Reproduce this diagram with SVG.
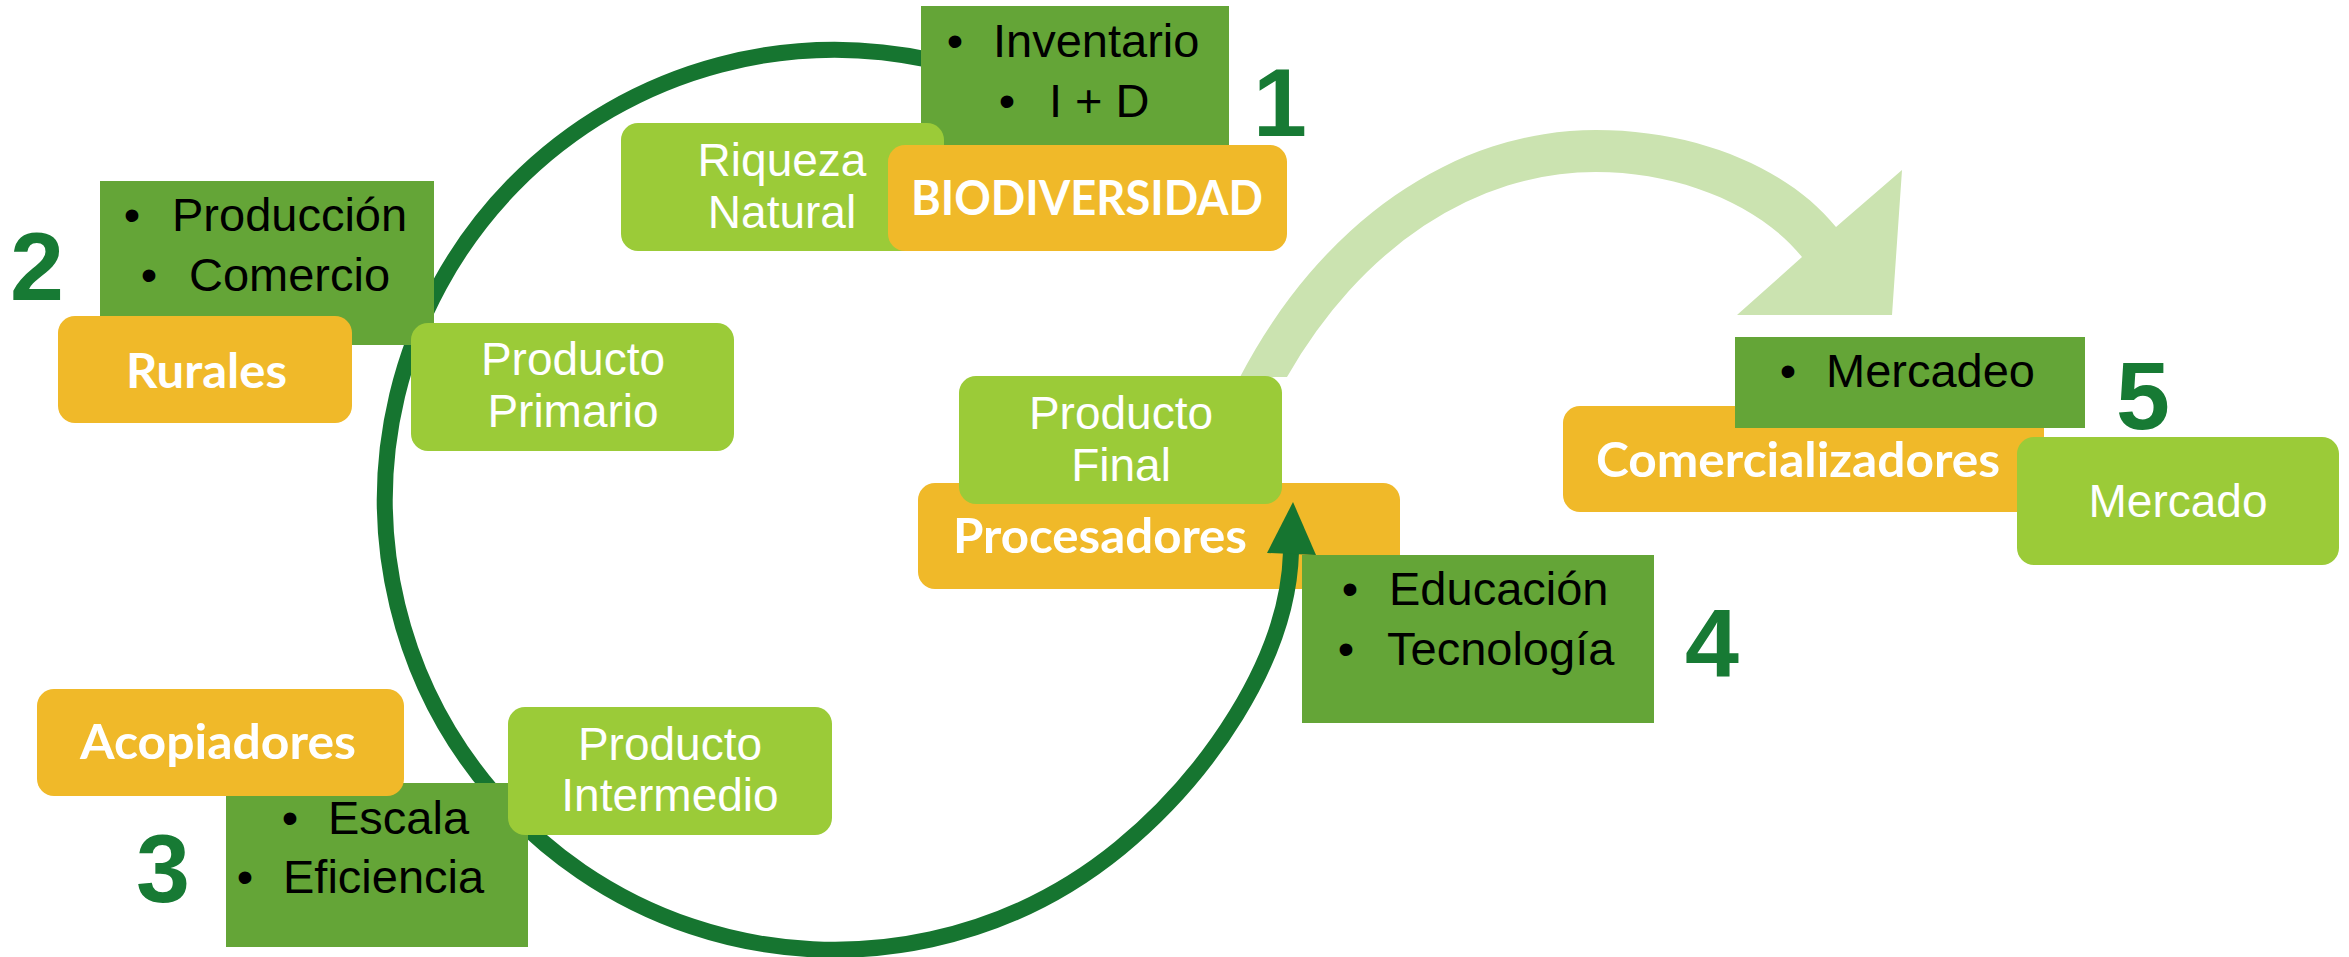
<svg xmlns="http://www.w3.org/2000/svg" width="2349" height="957" viewBox="0 0 2349 957">
<style>
.dk{fill:#64A537}
.lg{fill:#9BCB38}
.or{fill:#F0B929}
.bt{font-family:'Liberation Sans',Arial,sans-serif;font-size:47px;fill:#000}
.wt{font-family:'Liberation Sans',Arial,sans-serif;font-size:46px;fill:#fff;text-anchor:middle}
.bo{font-family:Lato,'Open Sans',sans-serif;font-weight:700;font-size:47px;fill:#fff}
.num{font-family:'Liberation Sans',Arial,sans-serif;font-weight:700;font-size:97px;fill:#177A34;text-anchor:middle}
.bul{text-anchor:middle}
</style>
<rect width="2349" height="957" fill="#fff"/>

<g id="node-procesadores">
<rect class="or" x="918" y="483" width="482" height="106" rx="17"/>
<text class="bo" x="953" y="553" textLength="294" lengthAdjust="spacingAndGlyphs">Procesadores</text>
</g>

<g id="connectors">
<path d="M1240 377 A432 570 0 0 1 1596 130 C1700 130 1790 170 1836 227 L1902 170 L1892 315 L1737 315 L1802 257 C1760 205 1680 172 1596 172 A390 528 0 0 0 1287 377 Z" fill="#CBE3B0"/>
<path d="M930 60 A450 450 0 1 0 1120 848 C1205 778 1288 662 1291 552" fill="none" stroke="#167530" stroke-width="16"/>
<polygon points="1293,502 1267,553 1316,555" fill="#167530"/>
</g>

<g id="node-producto-final">
<rect class="lg" x="959" y="376" width="323" height="128" rx="17"/>
<text class="wt" x="1121" y="429">Producto</text>
<text class="wt" x="1121" y="481">Final</text>
</g>

<g id="node-inventario">
<rect class="dk" x="921" y="6" width="308" height="180"/>
<text class="bt bul" x="955" y="57">•</text>
<text class="bt" x="993" y="57">Inventario</text>
<text class="bt bul" x="1007" y="117">•</text>
<text class="bt" x="1049" y="117">I + D</text>
</g>

<g id="node-riqueza">
<rect class="lg" x="621" y="123" width="323" height="128" rx="17"/>
<text class="wt" x="782" y="176">Riqueza</text>
<text class="wt" x="782" y="228">Natural</text>
</g>

<g id="node-biodiversidad">
<rect class="or" x="888" y="145" width="399" height="106" rx="17"/>
<text class="bo" x="911" y="215" textLength="352" lengthAdjust="spacingAndGlyphs">BIODIVERSIDAD</text>
</g>

<g id="num-1"><text class="num" x="1280" y="136">1</text></g>

<g id="node-produccion">
<rect class="dk" x="100" y="181" width="334" height="164"/>
<text class="bt bul" x="132" y="231">•</text>
<text class="bt" x="172" y="231">Producción</text>
<text class="bt bul" x="149" y="291">•</text>
<text class="bt" x="189" y="291">Comercio</text>
</g>

<g id="node-rurales">
<rect class="or" x="58" y="316" width="294" height="107" rx="17"/>
<text class="bo" x="126" y="388" textLength="161" lengthAdjust="spacingAndGlyphs">Rurales</text>
</g>

<g id="num-2"><text class="num" x="37" y="300">2</text></g>

<g id="node-producto-primario">
<rect class="lg" x="411" y="323" width="323" height="128" rx="17"/>
<text class="wt" x="573" y="375">Producto</text>
<text class="wt" x="573" y="427">Primario</text>
</g>

<g id="node-escala">
<rect class="dk" x="226" y="783" width="302" height="164"/>
<text class="bt bul" x="290" y="834">•</text>
<text class="bt" x="328" y="834">Escala</text>
<text class="bt bul" x="245" y="893">•</text>
<text class="bt" x="283" y="893">Eficiencia</text>
</g>

<g id="node-acopiadores">
<rect class="or" x="37" y="689" width="367" height="107" rx="17"/>
<text class="bo" x="80" y="759" textLength="276" lengthAdjust="spacingAndGlyphs">Acopiadores</text>
</g>

<g id="num-3"><text class="num" x="163" y="902">3</text></g>

<g id="node-producto-intermedio">
<rect class="lg" x="508" y="707" width="324" height="128" rx="17"/>
<text class="wt" x="670" y="760">Producto</text>
<text class="wt" x="670" y="811">Intermedio</text>
</g>

<g id="node-educacion">
<rect class="dk" x="1302" y="555" width="352" height="168"/>
<text class="bt bul" x="1350" y="605">•</text>
<text class="bt" x="1389" y="605">Educación</text>
<text class="bt bul" x="1346" y="665">•</text>
<text class="bt" x="1387" y="665">Tecnología</text>
</g>

<g id="num-4"><text class="num" x="1712" y="677">4</text></g>

<g id="node-comercializadores">
<rect class="or" x="1563" y="406" width="481" height="106" rx="17"/>
<text class="bo" x="1596" y="477" textLength="404" lengthAdjust="spacingAndGlyphs">Comercializadores</text>
</g>

<g id="node-mercadeo">
<rect class="dk" x="1735" y="337" width="350" height="91"/>
<text class="bt bul" x="1788" y="387">•</text>
<text class="bt" x="1826" y="387">Mercadeo</text>
</g>

<g id="num-5"><text class="num" x="2143" y="429">5</text></g>

<g id="node-mercado">
<rect class="lg" x="2017" y="437" width="322" height="128" rx="17"/>
<text class="wt" x="2178" y="517">Mercado</text>
</g>
</svg>
